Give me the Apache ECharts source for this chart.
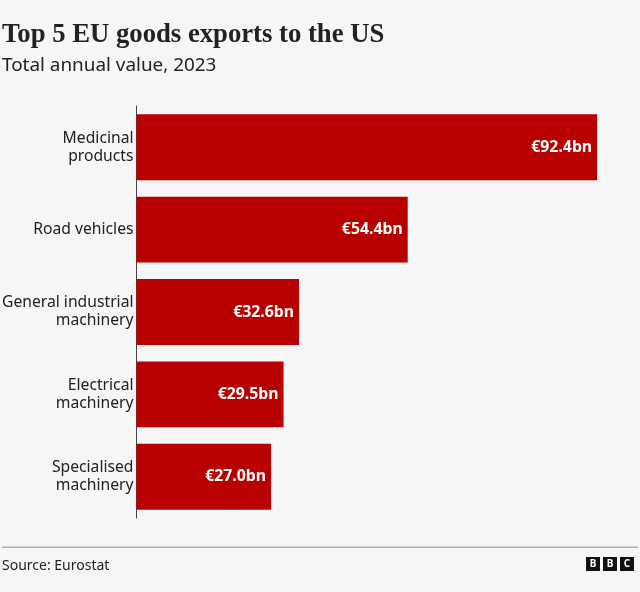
<!DOCTYPE html>
<html>
<head>
<meta charset="utf-8">
<script src="https://cdn.jsdelivr.net/npm/echarts@6/dist/echarts.min.js"></script>
<style>
html, body { margin: 0; padding: 0; background: #f6f6f6; }
#chart { width: 640px; height: 592px; }
</style>
</head>
<body>
<div id="chart"></div>
<script>
var categories = ['Medicinal\nproducts', 'Road vehicles', 'General industrial\nmachinery', 'Electrical\nmachinery', 'Specialised\nmachinery'];
var values = [92.4, 54.4, 32.6, 29.5, 27.0];
var fontName = '"Noto Sans", sans-serif';
var textColor = '#222222';

var option = {
    backgroundColor: '#f6f6f6',
    animation: false,
    title: [{
        text: 'Top 5 EU goods exports to the US',
        left: 2, top: 22, padding: 0,
        textStyle: { fontFamily: '"Liberation Serif", serif', fontSize: 26.7, fontWeight: 'bold', color: textColor }
    }, {
        text: 'Total annual value, 2023',
        left: 2, top: 56, padding: 0,
        textStyle: { fontFamily: fontName, fontSize: 18.9, fontWeight: 'normal', color: textColor }
    }, {
        text: 'Source: Eurostat',
        left: 2, top: 559, padding: 0,
        textStyle: { fontFamily: fontName, fontSize: 14, fontWeight: 'normal', color: textColor }
    }],
    grid: { left: 136.5, top: 106, width: 503.5, height: 412, outerBoundsMode: 'none' },
    xAxis: {
        type: 'value',
        min: 0,
        max: 101,
        show: false
    },
    yAxis: {
        type: 'category',
        inverse: true,
        data: categories,
        axisTick: { show: false },
        axisLine: { lineStyle: { color: '#444444', width: 1 } },
        axisLabel: {
            margin: 3,
            fontFamily: fontName,
            fontSize: 15.7,
            lineHeight: 18,
            color: textColor,
            align: 'right'
        }
    },
    series: [{
        type: 'bar',
        data: values,
        barCategoryGap: '20%',
        itemStyle: { color: '#b80000' },
        label: {
            show: true,
            position: 'insideRight',
            distance: 5,
            fontFamily: fontName,
            fontSize: 15.8,
            fontWeight: 'bold',
            color: '#ffffff',
            formatter: function (p) { return '€' + p.value.toFixed(1) + 'bn'; }
        }
    }],
    graphic: [
        { type: 'rect', shape: { x: 2, y: 546.5, width: 636, height: 1.5 }, style: { fill: '#b0b0b0' } }
    ].concat(['B', 'B', 'C'].map(function (letter, i) {
        return {
            type: 'group',
            x: 586 + i * 17,
            y: 557,
            children: [
                { type: 'rect', shape: { x: 0, y: 0, width: 14, height: 14 }, style: { fill: '#111111' } },
                { type: 'text', style: { x: 7, y: 7, text: letter, align: 'center', verticalAlign: 'middle', fill: '#ffffff', fontFamily: fontName, fontSize: 10, fontWeight: 'bold' } }
            ]
        };
    }))
};

var myChart = echarts.init(document.getElementById('chart'));
myChart.setOption(option);
</script>
</body>
</html>
